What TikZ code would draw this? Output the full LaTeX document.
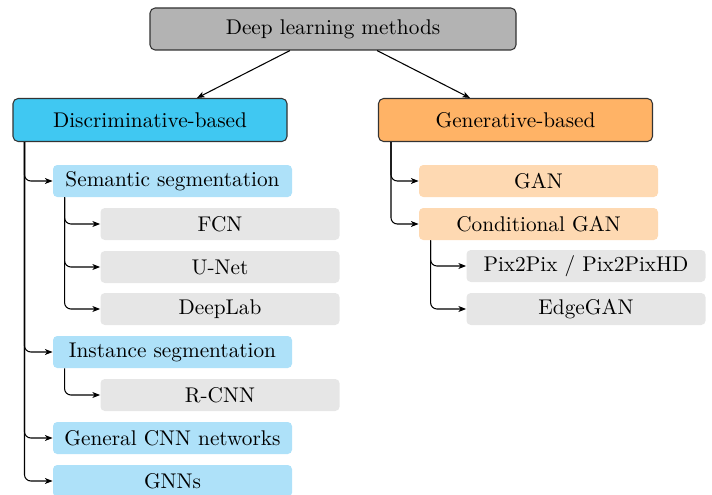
\documentclass[tikz,border=0pt]{standalone}
\usetikzlibrary{arrows.meta}
\newcommand\pxu[1]{#1*0.47pt}
\definecolor{topgray}{HTML}{B3B3B3}
\definecolor{discblue}{HTML}{40C8F2}
\definecolor{genorange}{HTML}{FFB366}
\definecolor{lblue}{HTML}{AEE1F9}
\definecolor{lorange}{HTML}{FED9B2}
\definecolor{lgray}{HTML}{E6E6E6}
\tikzset{
  mainbox/.style={draw=black!80, line width=0.5pt, rounded corners=2.4pt, align=center,
    minimum width=\pxu{274}, minimum height=\pxu{43}, inner sep=0pt},
  subbox/.style={rounded corners=2pt, align=center, minimum width=\pxu{239},
    minimum height=\pxu{32}, inner sep=0pt},
  bluebox/.style={subbox, fill=lblue},
  orbox/.style={subbox, fill=lorange},
  graybox/.style={subbox, fill=lgray},
  conn/.style={line width=0.5pt, rounded corners=3pt, -{Stealth[length=3.6pt,width=2.8pt,inset=1pt]}},
  topconn/.style={line width=0.5pt, -{Stealth[length=3.6pt,width=2.8pt,inset=1pt]}},
}
\begin{document}
\begin{tikzpicture}[x=0.47pt, y=-0.47pt]
\useasboundingbox (0,0) rectangle (712,495);
\node[mainbox, fill=topgray, minimum width=\pxu{366}, minimum height=\pxu{42}] (top) at (333,29) {Deep learning methods};
\node[mainbox, fill=discblue] (disc) at (150,120) {Discriminative-based};
\node[mainbox, fill=genorange] (gen) at (515.5,120) {Generative-based};

\node[bluebox] (sem) at (172.5,181) {Semantic segmentation};
\node[graybox] (fcn) at (220,224) {FCN};
\node[graybox] (unet) at (220,267) {U-Net};
\node[graybox] (deeplab) at (220,309) {DeepLab};
\node[bluebox] (inst) at (172.5,352) {Instance segmentation};
\node[graybox] (rcnn) at (220,395) {R-CNN};
\node[bluebox] (gcnn) at (172.5,438) {General CNN networks};
\node[bluebox] (gnn) at (172.5,481) {GNNs};

\node[orbox] (gan) at (538.5,181) {GAN};
\node[orbox] (cgan) at (538.5,224) {Conditional GAN};
\node[graybox] (pix) at (586,266) {Pix2Pix / Pix2PixHD};
\node[graybox] (edge) at (586,309) {EdgeGAN};

\draw[topconn] ([xshift=\pxu{-43}]top.south) -- ([xshift=\pxu{47}]disc.north);
\draw[topconn] ([xshift=\pxu{44}]top.south) -- ([xshift=\pxu{-45.5}]gen.north);

\foreach \t in {sem,inst,gcnn,gnn}
  \draw[conn] ([xshift=\pxu{12}]disc.south west) |- (\t.west);
\foreach \t in {fcn,unet,deeplab}
  \draw[conn] ([xshift=\pxu{12}]sem.south west) |- (\t.west);
\draw[conn] ([xshift=\pxu{12}]inst.south west) |- (rcnn.west);
\foreach \t in {gan,cgan}
  \draw[conn] ([xshift=\pxu{13}]gen.south west) |- (\t.west);
\foreach \t in {pix,edge}
  \draw[conn] ([xshift=\pxu{12}]cgan.south west) |- (\t.west);
\end{tikzpicture}
\end{document}
